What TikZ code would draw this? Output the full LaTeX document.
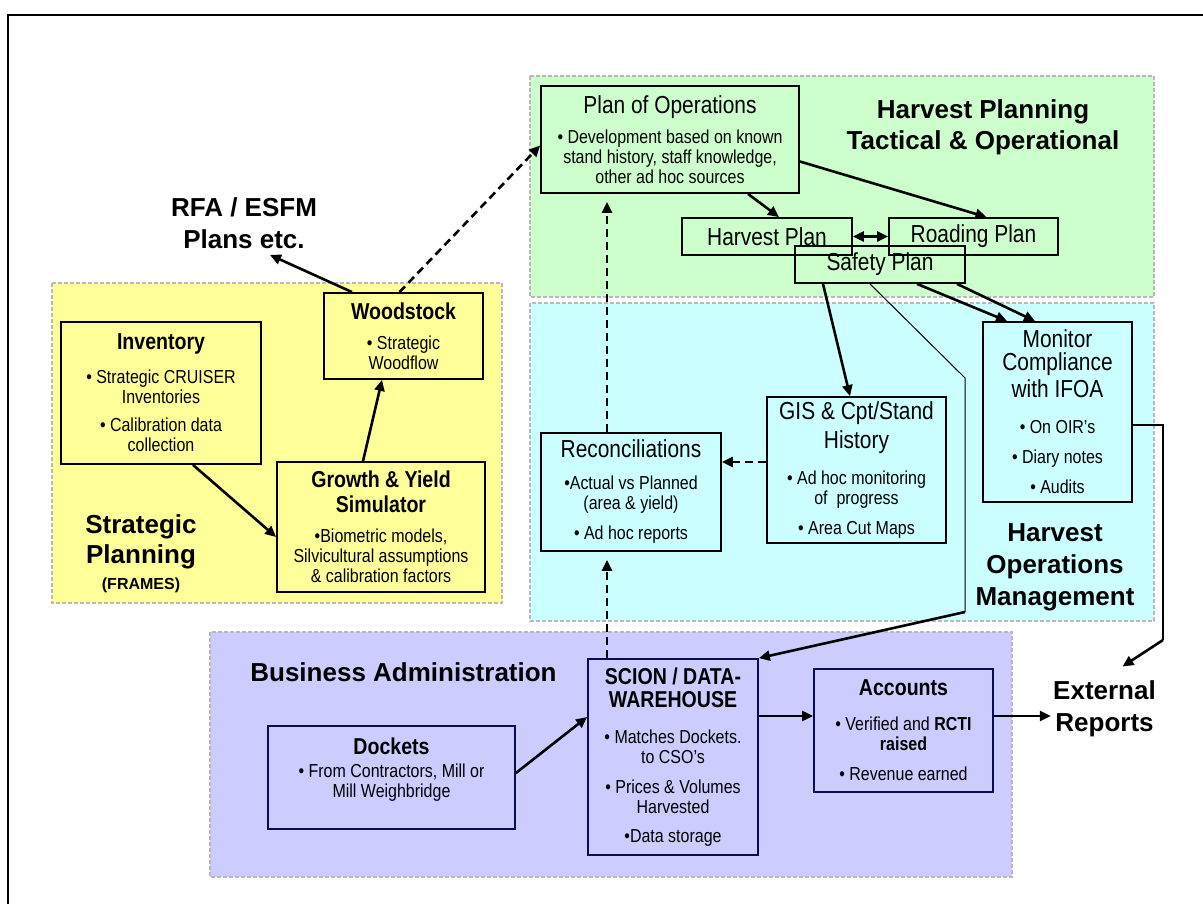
\documentclass[tikz,border=0pt]{standalone}
\usepackage{fontspec}
\setmainfont{Liberation Sans}
\newfontfamily\nar{Liberation Sans}[FakeStretch=0.85]
\usetikzlibrary{arrows.meta}

\definecolor{yel}{RGB}{255,255,153}
\definecolor{grn}{RGB}{204,255,204}
\definecolor{cyn}{RGB}{204,255,255}
\definecolor{pur}{RGB}{204,204,255}
\definecolor{navy}{RGB}{10,10,90}

\newcommand{\bodyf}{\nar\fontsize{9.4}{10}\selectfont}
\newcommand{\titlef}{\nar\fontsize{12.3}{13}\selectfont}
\newcommand{\btitlef}{\nar\bfseries\fontsize{11.5}{13}\selectfont}
\newcommand{\bigf}{\bfseries\fontsize{13}{16}\selectfont}

\begin{document}
\begin{tikzpicture}[x=0.5pt, y=-0.5pt,
    region/.style={draw=gray!55, line width=0.7pt, dash pattern=on 2pt off 1pt},
    opbox/.style={draw, line width=0.9pt, align=center, inner sep=1pt, font=\bodyf},
    admbox/.style={opbox, draw=navy},
    arr/.style={-{Triangle[length=5.5pt,width=5pt]}, line width=1.3pt},
    darr/.style={arr, dash pattern=on 4pt off 2.5pt},
    biglab/.style={align=center, font=\bigf, inner sep=1pt}]
    \useasboundingbox (0,0) rectangle (1203,904);
    % frame
    \draw[line width=1pt] (8,904) -- (8,15) -- (1203,15);
    % regions
    \draw[region, fill=yel] (52,283) rectangle (502,603);
    \draw[region, fill=grn] (530,76) rectangle (1154,297);
    \draw[region, fill=cyn] (530,303) rectangle (1154,621);
    \draw[region, fill=pur] (210,632) rectangle (1012,877);
    % region labels
    \node[biglab] (rfa) at (244,223) {RFA / ESFM\\Plans etc.};
    \node[biglab] (strat) at (141,554) {Strategic\\[-1pt]Planning\\[-3pt]{\fontsize{8}{9}\selectfont (FRAMES)}};
    \node[biglab] (hpt) at (983,127) {Harvest Planning\\[-0.5pt]Tactical \& Operational};
    \node[biglab] (hom) at (1055,567) {Harvest\\Operations\\Management};
    \node[biglab] (bus) at (403.5,672) {Business Administration};
    \node[biglab] (ext) at (1104.5,709) {External\\Reports};
    % strategic planning
    \node[opbox, minimum width=100pt, minimum height=71pt] (inv) at (161,393)
        {{\btitlef Inventory}\\[7pt]• Strategic CRUISER\\Inventories\\[4pt]• Calibration data\\collection};
    \node[opbox, minimum width=79.5pt, minimum height=43pt] (wood) at (403.5,336)
        {{\btitlef Woodstock}\\[5pt]• Strategic\\Woodflow};
    \node[opbox, minimum width=104pt, minimum height=65pt] (grow) at (381,527)
        {{\btitlef Growth \& Yield}\\[2.5pt]{\btitlef Simulator}\\[5pt]•Biometric models,\\Silvicultural assumptions\\\& calibration factors};
    % harvest planning
    \node[opbox, minimum width=129pt, minimum height=53.5pt] (plan) at (670,139.5)
        {{\titlef Plan of Operations}\\[5pt]• Development based on known\\stand history, staff knowledge,\\other ad hoc sources};
    \node[opbox, font=\titlef, minimum width=85pt, minimum height=18.5pt] (hplan) at (767,236.5) {Harvest Plan};
    \node[opbox, font=\titlef, minimum width=84.5pt, minimum height=18.5pt] (rplan) at (973.5,236.5) {Roading Plan};
    \node[opbox, font=\titlef, minimum width=85pt, minimum height=18.5pt] (splan) at (880,264.5) {Safety Plan};
    % harvest operations
    \node[opbox, minimum width=74.5pt, minimum height=90pt] (mon) at (1057.5,412)
        {{\titlef Monitor}\\[1.3pt]{\titlef Compliance}\\[1.3pt]{\titlef with IFOA}\\[8pt]• On OIR’s\\[5pt]• Diary notes\\[5pt]• Audits};
    \node[opbox, minimum width=89.5pt, minimum height=73pt] (gis) at (856.5,470)
        {{\titlef GIS \& Cpt/Stand}\\[2pt]{\titlef History}\\[8pt]• Ad hoc monitoring\\of\ \ progress\\[5pt]• Area Cut Maps};
    \node[opbox, minimum width=90pt, minimum height=59pt] (rec) at (631,492)
        {{\titlef Reconciliations}\\[6pt]•Actual vs Planned\\(area \& yield)\\[5pt]• Ad hoc reports};
    % business administration
    \node[admbox, minimum width=123.5pt, minimum height=51.5pt] (dock) at (391.5,777.5)
        {{\btitlef Dockets}\\[1.5pt]• From Contractors, Mill or\\Mill Weighbridge\\\mbox{}};
    \node[admbox, minimum width=85pt, minimum height=98pt] (scion) at (673,757)
        {{\btitlef SCION / DATA-}\\[1.5pt]{\btitlef WAREHOUSE}\\[8pt]• Matches Dockets.\\to CSO’s\\[5pt]• Prices \& Volumes\\Harvested\\[4.5pt]•Data storage};
    \node[admbox, minimum width=89.5pt, minimum height=61.5pt] (acc) at (903.5,730.5)
        {{\btitlef Accounts}\\[7.5pt]• Verified and \textbf{RCTI}\\\textbf{raised}\\[5pt]• Revenue earned};
    % connectors
    \draw[arr] ([xshift=-25.75pt]wood.north) -- ([xshift=13pt,yshift=-2pt]rfa.south);
    \draw[darr] ([xshift=-2pt]wood.north) -- ([yshift=-3pt]plan.west);
    \draw[arr] ([xshift=16pt]inv.south) -- ([yshift=-5pt]grow.west);
    \draw[arr] ([xshift=-9pt]grow.north) -- ([xshift=-10.75pt]wood.south);
    \draw[arr] ([xshift=39pt]plan.south) -- ([xshift=6pt]hplan.north);
    \draw[arr] ([yshift=-11pt]plan.east) -- ([xshift=6.5pt]rplan.north);
    \draw[{Triangle[length=5.5pt,width=5pt]}-{Triangle[length=5.5pt,width=5pt]}, line width=1.3pt] (hplan.east) -- (rplan.west);
    \draw[arr] ([xshift=-28.5pt]splan.south) -- ([xshift=-3.25pt]gis.north);
    \draw[arr] ([xshift=18.5pt]splan.south) -- ([xshift=-25.25pt]mon.north);
    \draw[arr] ([xshift=38.5pt]splan.south) -- ([xshift=-11.25pt]mon.north);
    \coordinate (sbend) at (965,378);
    \coordinate (sdrop) at (965,612);
    \draw[line width=0.5pt] ([xshift=-5pt]splan.south) -- (sbend) -- (sdrop);
    \draw[arr] (sdrop) -- (scion.north east);
    \coordinate (mdrop) at (1163,640);
    \draw[line width=0.6pt] ([yshift=-6.5pt]mon.east) -| (mdrop);
    \draw[arr] (mdrop) -- ([xshift=9pt,yshift=6pt]ext.north);
    \draw[darr] ([yshift=4pt]gis.west) -- ([yshift=4pt]gis.west -| rec.east);
    \draw[darr, shorten >=4pt] ([xshift=-12pt]rec.north) -- ([xshift=-12pt]rec.north |- plan.south);
    \draw[darr, shorten >=4pt] ([xshift=-33pt]scion.north) -- ([xshift=-33pt]scion.north |- rec.south);
    \draw[arr] ([yshift=2.25pt]dock.east) -- ([yshift=20pt]scion.west);
    \draw[arr] ([yshift=20.5pt]scion.east) -- ([yshift=20.5pt]scion.east -| acc.west);
    \draw[arr] ([yshift=7.25pt]acc.east) -- ([yshift=7.25pt]acc.east -| ext.west);
\end{tikzpicture}
\end{document}
